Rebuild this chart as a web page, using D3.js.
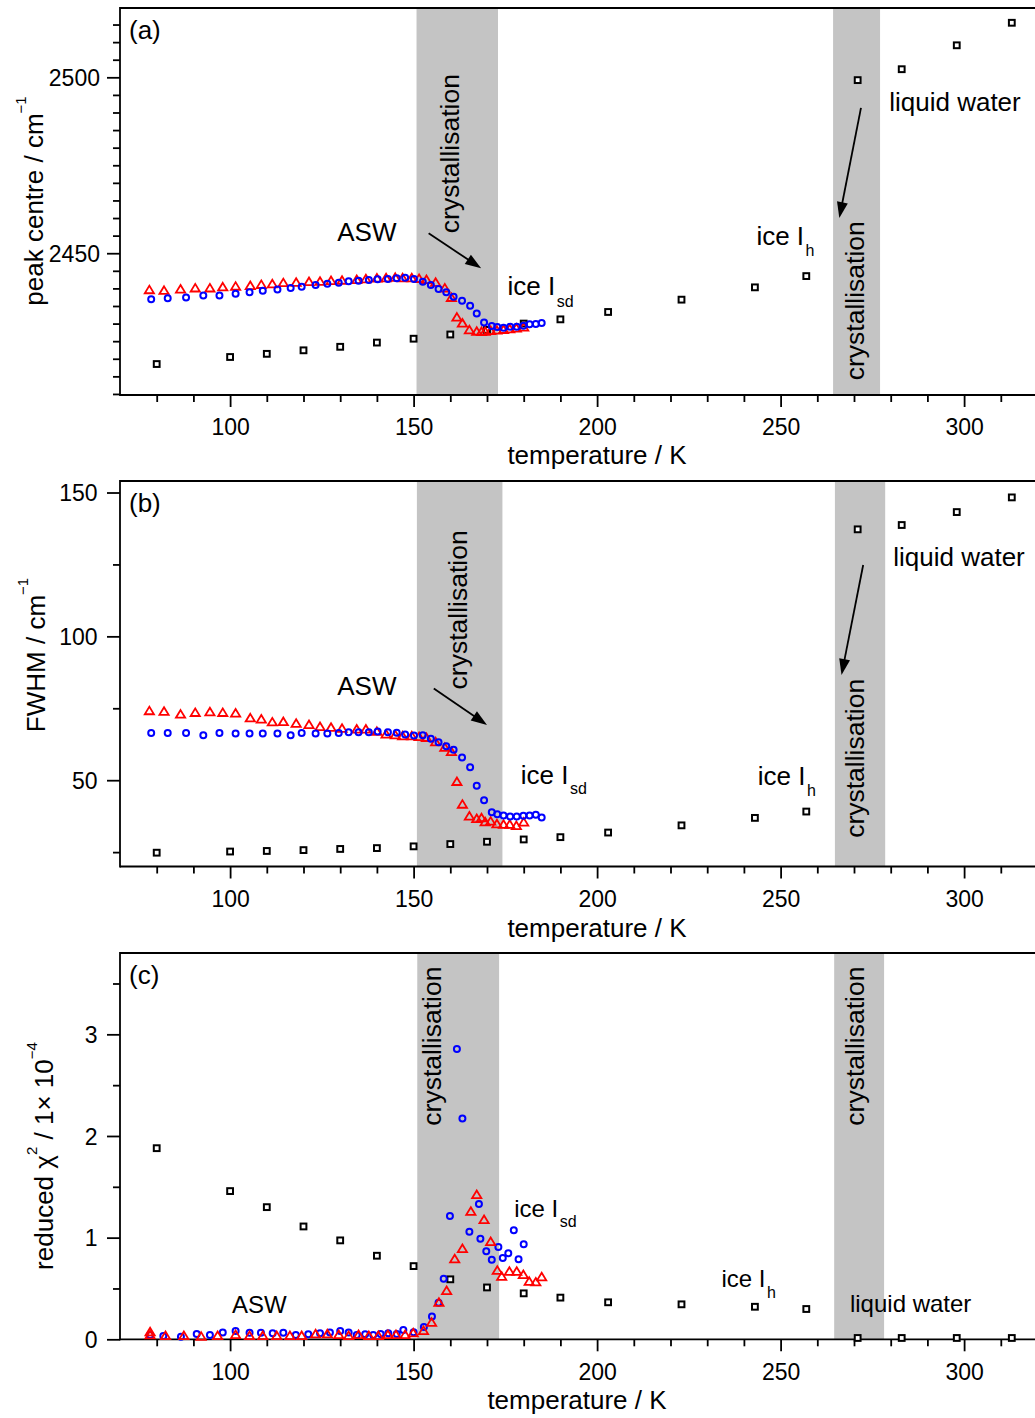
<!DOCTYPE html>
<html><head><meta charset="utf-8">
<script src="https://cdn.jsdelivr.net/npm/d3@7"></script>
<style>
body{margin:0;background:#fff}
svg{display:block}
text{font-family:"Liberation Sans",Arial,sans-serif;fill:#000}
</style>
</head><body>
<svg id="chart" width="1035" height="1418"></svg>
<script>
// ---------------- data ----------------
const xTickLabels = [100, 150, 200, 250, 300];
const yTickLabelsA = [2450, 2500];
const yTickLabelsB = [50, 100, 150];
const yTickLabelsC = [0, 1, 2, 3];

// black squares (single measurement series)
const tempsBlack = [80,100,110,120,130,140,150,160,170,180,190,203,223,243,257,271,283,298,313];
const blackA = [2418.5,2420.5,2421.4,2422.4,2423.4,2424.6,2425.7,2426.9,2428.2,2430.0,2431.2,2433.3,2436.8,2440.3,2443.5,2499.2,2502.3,2509.1,2515.5];
const blackB = [24.8,25.2,25.4,25.7,26.1,26.4,27.0,27.8,28.6,29.4,30.2,31.8,34.3,36.9,39.1,137.2,138.7,143.2,148.3];
const blackC = [1.88,1.458,1.30,1.11,0.973,0.822,0.72,0.59,0.51,0.452,0.41,0.364,0.344,0.32,0.298,0.013,0.013,0.013,0.013];

// red triangles
const tempsRed = [78,82,86.5,90.5,94.5,98,101.5,105.5,108.5,111.5,114.5,118,121.5,124.5,127.5,130.5,134.5,137,140,142.5,145,147,149.5,151.5,153.5,156,158.5,160.3,161.8,163.3,165.2,167.2,168.5,169.5,171,172.7,174.5,176.2,178,180];
const redA = [2439.5,2439.3,2439.7,2440.0,2440.0,2440.3,2440.5,2440.7,2441.0,2441.2,2441.5,2441.6,2441.8,2441.9,2442.1,2442.2,2442.4,2442.6,2442.8,2442.9,2443.0,2442.9,2442.9,2442.7,2442.4,2441.6,2440.0,2437.3,2431.7,2430.0,2428.1,2427.7,2427.6,2427.7,2427.9,2428.0,2428.2,2428.4,2428.6,2428.9];
const redB = [74.0,73.8,72.8,73.4,73.6,73.4,73.2,71.5,71.1,70.1,70.2,69.6,69.2,68.5,68.2,67.9,67.6,67.6,66.8,65.9,65.6,65.3,65.3,65.0,64.7,63.2,61.3,59.8,49.4,41.5,37.4,36.5,36.8,35.4,35.6,34.7,34.5,34.5,34.1,35.3];
const tempsRedC = [78.2,78.2,82.4,87.4,92.1,96.6,101.5,105.3,108.9,112.7,116.3,119.5,123.3,126.5,129.6,132.3,135,137.8,140.4,143,145.2,147.7,149.9,152.7,154.9,156.9,159,161.2,163.3,165.6,167.2,169.2,171,172.8,174,176.1,178.1,179.9,181.5,183.3,184.9];
const redC = [0.07,0.04,0.032,0.032,0.026,0.032,0.042,0.032,0.032,0.032,0.032,0.032,0.049,0.049,0.042,0.032,0.042,0.032,0.032,0.042,0.042,0.042,0.059,0.082,0.163,0.36,0.475,0.787,0.888,1.255,1.419,1.173,0.957,0.675,0.616,0.665,0.665,0.632,0.566,0.56,0.61];

// blue circles
const tempsBlue = [78.5,83,88,92.7,97.1,101.5,105.3,108.9,112.9,116.5,119.5,123.3,126.5,129.6,132.3,135,137.8,140.2,143,145.4,147.7,150.1,152.5,154.7,156.8,158.9,160.9,163.2,165.4,167.2,169.2,171.3,172.8,174.5,176.3,178.1,179.9,181.6,183.3,184.9];
const blueA = [2436.9,2437.2,2437.4,2438.0,2438.0,2438.5,2438.9,2439.3,2439.7,2440.1,2440.5,2441.0,2441.3,2441.6,2442.0,2442.2,2442.4,2442.6,2442.7,2442.9,2443.0,2442.7,2441.9,2441.0,2439.8,2438.9,2437.6,2436.5,2435.1,2432.9,2430.3,2429.3,2429.0,2428.8,2429.1,2429.1,2429.4,2429.8,2429.9,2430.2];
const blueB = [66.4,66.4,66.4,65.6,66.4,66.2,66.2,66.2,66.2,65.6,66.4,66.2,66.2,66.4,66.7,66.7,66.7,66.9,66.7,66.5,65.9,65.5,65.6,64.4,63.2,61.8,60.6,57.9,54.5,48.1,43.0,38.9,38.2,37.7,37.4,37.4,37.6,37.7,38.0,37.0];
const tempsBlueC = [78.2,81.8,86.6,90.9,94.5,98,101.5,105.3,108.4,111.6,114.5,117.9,121.3,124.5,127.2,130,132.3,134.5,136.8,139,141,143.1,145.4,147.2,150,152.8,155,156.8,158.2,159.9,161.8,163.3,165.2,167.8,168.2,169.8,171.3,173.1,174.3,175.8,177.3,178.6,180];
const blueC = [0.042,0.032,0.026,0.052,0.042,0.068,0.081,0.065,0.065,0.059,0.065,0.042,0.049,0.059,0.068,0.081,0.068,0.042,0.049,0.042,0.052,0.059,0.052,0.091,0.07,0.12,0.225,0.36,0.596,1.212,2.855,2.173,1.058,1.33,0.989,0.865,0.783,0.908,0.80,0.846,1.072,0.787,0.934];

// ---------------- layout ----------------
const FONT_TICK = 23, FONT_TITLE = 26;
const BAND = "#c4c4c4";
const svg = d3.select("#chart");
const x = d3.scaleLinear().domain([70, 320]).range([120, 1037.5]);
const xMinor = d3.range(80, 320, 10).filter(v => !xTickLabels.includes(v));

const panels = [
  { label:"(a)", top:8, bottom:395, domain:[2409.7, 2519.7],
    yMajor:yTickLabelsA, yMinor:d3.range(2410, 2520, 5).filter(v => !yTickLabelsA.includes(v)),
    yLabelRight:100, xTitleX:597, xTitleBase:464,
    yTitle:{x:43, cy:201, parts:[["peak centre / cm",0,FONT_TITLE],["\u22121",-17,15]]},
    bands:[[150.8,173.0],[264.3,277.1]],
    black:blackA, redT:tempsRed, red:redA, blueT:tempsBlue, blue:blueA, blueOnTop:true,
    font:26,
    texts:[
      {t:"ASW", T:129.2, v:2453.5},
      {t:"liquid water", T:279.6, v:2490.3},
      {t:"ice I", sub:"sd", T:175.6, v:2438.1, dy:11.5},
      {t:"ice I", sub:"h", T:243.4, v:2452.4, dy:11}
    ],
    cryst:[{T:162.5, v:2478.3},{T:272.6, v:2436.5}],
    arrows:[[154.1,2455.7,168.4,2445.7],[271.9,2491.3,266.0,2460.0]]
  },
  { label:"(b)", top:481, bottom:866.5, domain:[20, 154],
    yMajor:yTickLabelsB, yMinor:[25,75,125],
    yLabelRight:97.5, xTitleX:597, xTitleBase:937,
    yTitle:{x:45, cy:655, parts:[["FWHM / cm",0,FONT_TITLE],["\u22121",-17,15]]},
    bands:[[150.9,174.2],[264.8,278.5]],
    black:blackB, redT:tempsRed, red:redB, blueT:tempsBlue, blue:blueB, blueOnTop:true,
    font:26,
    texts:[
      {t:"ASW", T:129.2, v:79.6},
      {t:"liquid water", T:280.7, v:124.4},
      {t:"ice I", sub:"sd", T:179.2, v:48.7, dy:10.5},
      {t:"ice I", sub:"h", T:243.8, v:48.3, dy:10.5}
    ],
    cryst:[{T:164.5, v:109.2},{T:272.8, v:57.6}],
    arrows:[[155.5,81.9,170.0,69.2],[272.5,124.8,266.6,86.6]]
  },
  { label:"(c)", top:953, bottom:1339.3, domain:[0, 3.8],
    yMajor:yTickLabelsC, yMinor:[0.5,1.5,2.5,3.5],
    yLabelRight:97.5, xTitleX:577, xTitleBase:1409,
    yTitle:{x:53, cy:1156, parts:[["reduced \u03c7",0,FONT_TITLE],["2",-16,15],[" / 1\u00d7 10",16,FONT_TITLE],["\u22124",-16,15]]},
    bands:[[151.0,173.3],[264.6,278.2]],
    black:blackC, redT:tempsRedC, red:redC, blueT:tempsBlueC, blue:blueC, blueOnTop:false,
    font:24,
    texts:[
      {t:"ASW", T:100.5, v:0.262},
      {t:"liquid water", T:268.9, v:0.271},
      {t:"ice I", sub:"sd", T:177.4, v:1.206, dy:10.5},
      {t:"ice I", sub:"h", T:233.9, v:0.511, dy:10.5}
    ],
    cryst:[{T:157.4, v:2.884},{T:272.8, v:2.884}],
    arrows:[]
  }
];

function arrow(g, x1, y1, x2, y2){
  const dx = x2 - x1, dy = y2 - y1, L = Math.hypot(dx, dy);
  const ux = dx / L, uy = dy / L, hl = 16, hw = 5.5;
  const bx = x2 - ux * hl, by = y2 - uy * hl;
  g.append("line").attr("x1", x1).attr("y1", y1).attr("x2", bx + ux*2).attr("y2", by + uy*2)
    .attr("stroke", "#000").attr("stroke-width", 1.8);
  g.append("path")
    .attr("d", `M${x2},${y2}L${bx - uy*hw},${by + ux*hw}L${bx + uy*hw},${by - ux*hw}Z`)
    .attr("fill", "#000");
}

const triPath = "M0,-4.5L4.6,3.1L-4.6,3.1Z";

panels.forEach(p => {
  const y = d3.scaleLinear().domain(p.domain).range([p.bottom, p.top]);
  const g = svg.append("g");

  // grey crystallisation bands
  p.bands.forEach(([a, b]) => {
    g.append("rect").attr("x", x(a)).attr("y", p.top - 1)
      .attr("width", x(b) - x(a)).attr("height", p.bottom - p.top + 1)
      .attr("fill", BAND);
  });

  // x axis
  const gx = g.append("g").attr("transform", `translate(0,${p.bottom})`);
  gx.append("g").call(d3.axisBottom(x).tickValues(xTickLabels).tickSize(12).tickPadding(12).tickFormat(d3.format("d")));
  gx.append("g").call(d3.axisBottom(x).tickValues(xMinor).tickSize(7).tickFormat(""));
  gx.selectAll(".domain").remove();
  gx.selectAll("line").attr("stroke", "#000").attr("stroke-width", 1.8);
  gx.selectAll("text").attr("font-size", FONT_TICK).style("font-family", '"Liberation Sans",Arial,sans-serif').attr("fill", "#000");

  // y axis
  const gy = g.append("g").attr("transform", `translate(120,0)`);
  gy.append("g").call(d3.axisLeft(y).tickValues(p.yMajor).tickSize(13).tickPadding(120 - 13 - p.yLabelRight).tickFormat(d3.format("d")));
  gy.append("g").call(d3.axisLeft(y).tickValues(p.yMinor).tickSize(7).tickFormat(""));
  gy.selectAll(".domain").remove();
  gy.selectAll("line").attr("stroke", "#000").attr("stroke-width", 1.8);
  gy.selectAll("text").attr("font-size", FONT_TICK).attr("dy", "0.36em").style("font-family", '"Liberation Sans",Arial,sans-serif').attr("fill", "#000");

  // frame lines
  g.append("line").attr("x1", 120).attr("x2", 1035).attr("y1", p.bottom).attr("y2", p.bottom).attr("stroke", "#000").attr("stroke-width", 1.8);
  g.append("line").attr("x1", 120).attr("x2", 1035).attr("y1", p.top).attr("y2", p.top).attr("stroke", "#000").attr("stroke-width", 1.8);
  g.append("line").attr("x1", 120).attr("x2", 120).attr("y1", p.top - 0.9).attr("y2", p.bottom + 0.9).attr("stroke", "#000").attr("stroke-width", 1.8);

  // axis titles
  g.append("text").attr("x", p.xTitleX).attr("y", p.xTitleBase).attr("text-anchor", "middle")
    .attr("font-size", FONT_TITLE).text("temperature / K");
  const yt = g.append("text").attr("transform", `translate(${p.yTitle.x},${p.yTitle.cy}) rotate(-90)`)
    .attr("text-anchor", "middle").attr("font-size", FONT_TITLE);
  p.yTitle.parts.forEach(([s, dy, fs]) => yt.append("tspan").attr("dy", dy).attr("font-size", fs).text(s));

  // panel label
  g.append("text").attr("x", 129).attr("y", p.top + 31).attr("font-size", 26).text(p.label);

  // annotation texts
  p.texts.forEach(a => {
    const t = g.append("text").attr("x", x(a.T)).attr("y", y(a.v)).attr("font-size", p.font).text(a.t);
    if (a.sub) t.append("tspan").attr("dx", 1.5).attr("dy", a.dy).attr("font-size", 16).text(a.sub);
  });
  p.cryst.forEach(c => {
    g.append("text").attr("transform", `translate(${x(c.T)},${y(c.v)}) rotate(-90)`)
      .attr("text-anchor", "middle").attr("font-size", 26.5).text("crystallisation");
  });
  p.arrows.forEach(([t1, v1, t2, v2]) => arrow(g, x(t1), y(v1), x(t2), y(v2)));

  // markers
  const blackData = tempsBlack.map((t, i) => [t, p.black[i]]);
  const redData = p.redT.map((t, i) => [t, p.red[i]]);
  const blueData = p.blueT.map((t, i) => [t, p.blue[i]]);

  g.append("g").selectAll("rect").data(blackData).join("rect")
    .attr("x", d => x(d[0]) - 2.9).attr("y", d => y(d[1]) - 2.9)
    .attr("width", 5.8).attr("height", 5.8)
    .attr("fill", "#fff").attr("stroke", "#000").attr("stroke-width", 2);

  const drawRed = () => g.append("g").selectAll("path").data(redData).join("path")
    .attr("d", triPath).attr("transform", d => `translate(${x(d[0])},${y(d[1])})`)
    .attr("fill", "none").attr("stroke", "#ff0000").attr("stroke-width", 1.8);
  const drawBlue = () => g.append("g").selectAll("circle").data(blueData).join("circle")
    .attr("cx", d => x(d[0])).attr("cy", d => y(d[1])).attr("r", 3.0)
    .attr("fill", "none").attr("stroke", "#0000ff").attr("stroke-width", 2);
  if (p.blueOnTop) { drawRed(); drawBlue(); } else { drawBlue(); drawRed(); }
});
</script>
</body></html>
